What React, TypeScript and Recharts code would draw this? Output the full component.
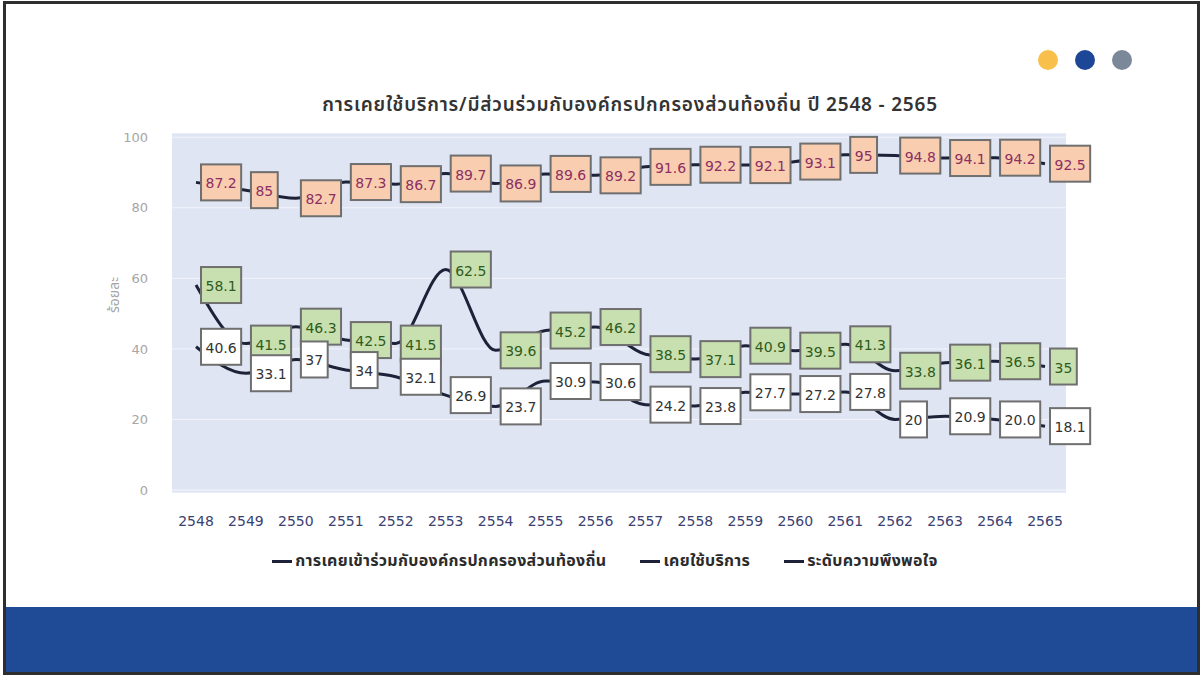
import { LineChart, Line, XAxis, YAxis, CartesianGrid, LabelList } from "recharts";

const years = ["2548", "2549", "2550", "2551", "2552", "2553", "2554", "2555", "2556", "2557", "2558", "2559", "2560", "2561", "2562", "2563", "2564", "2565"];
const participation = [58.1, 41.5, 46.3, 42.5, 41.5, 62.5, 39.6, 45.2, 46.2, 38.5, 37.1, 40.9, 39.5, 41.3, 33.8, 36.1, 36.5, 35];
const service = [40.6, 33.1, 37, 34, 32.1, 26.9, 23.7, 30.9, 30.6, 24.2, 23.8, 27.7, 27.2, 27.8, 20, 20.9, 20.0, 18.1];
const satisfaction = [87.2, 85, 82.7, 87.3, 86.7, 89.7, 86.9, 89.6, 89.2, 91.6, 92.2, 92.1, 93.1, 95, 94.8, 94.1, 94.2, 92.5];
const serviceLabels = ["40.6", "33.1", "37", "34", "32.1", "26.9", "23.7", "30.9", "30.6", "24.2", "23.8", "27.7", "27.2", "27.8", "20", "20.9", "20.0", "18.1"];
const yTicks = [0, 20, 40, 60, 80, 100];

const seriesNames = [
  "การเคยเข้าร่วมกับองค์กรปกครองส่วนท้องถิ่น",
  "เคยใช้บริการ",
  "ระดับความพึงพอใจ",
];

const data = years.map((year, i) => ({
  year,
  participation: participation[i],
  service: service[i],
  satisfaction: satisfaction[i],
}));

const thaiFont = "Tahoma, 'Noto Sans Thai', 'Noto Sans', 'DejaVu Sans', sans-serif";
const lineColor = "#1d2238";

const textWidth = (t: string, fs: number) =>
  t.split("").reduce((w, c) => w + (c === "." ? 0.318 : 0.636) * fs, 0);

function makeBox(fill: string, color: string, texts?: string[]) {
  return (props: any) => {
    const { x, y, value, index } = props;
    if (x == null || y == null) return null;
    const t = texts ? texts[index] : String(value);
    const fs = 14;
    const w = textWidth(t, fs) + 9;
    return (
      <g>
        <rect x={x + 5} y={y - 18} width={w} height={36} fill={fill} stroke="#6f6f6f" strokeWidth={2} />
        <text
          x={x + 5 + w / 2}
          y={y + 1}
          textAnchor="middle"
          dominantBaseline="central"
          fontSize={fs}
          fontFamily="'DejaVu Sans', Verdana, sans-serif"
          fill={color}
        >
          {t}
        </text>
      </g>
    );
  };
}

export default function App() {
  return (
    <div style={{ position: "absolute", left: 0, top: 0, width: 1204, height: 676, background: "#fff", overflow: "hidden" }}>
      <div style={{ position: "absolute", left: 3, top: 1, width: 1197, height: 674, boxSizing: "border-box", border: "3px solid #2e2e2e" }} />
      <div style={{ position: "absolute", left: 6, top: 607, width: 1191, height: 65, background: "#1e4a96" }} />
      {["#f9bf4b", "#1e4696", "#7b8899"].map((c, i) => (
        <div key={c} style={{ position: "absolute", left: 1038 + i * 37, top: 50, width: 20, height: 20, borderRadius: 10, background: c }} />
      ))}
      <div
        style={{
          position: "absolute",
          left: 0,
          top: 91,
          width: 1260,
          textAlign: "center",
          fontFamily: thaiFont,
          fontSize: 19,
          fontWeight: 600,
          letterSpacing: 0.8,
          color: "#333",
        }}
      >
        การเคยใช้บริการ/มีส่วนร่วมกับองค์กรปกครองส่วนท้องถิ่น ปี 2548 - 2565
      </div>
      <div style={{ position: "absolute", left: 0, top: 0 }}>
        <LineChart width={1204} height={600} data={data} margin={{ top: 133, right: 138, bottom: 67, left: 112 }}>
          <CartesianGrid vertical={false} fill="#e0e5f4" stroke="#ffffff" strokeOpacity={0.6} />
          <XAxis
            dataKey="year"
            padding={{ left: 24, right: 21 }}
            axisLine={false}
            tickLine={false}
            tickSize={0}
            tickMargin={23}
            height={40}
            tick={{ fill: "#3b4272", fontSize: 14, fontFamily: "'DejaVu Sans', sans-serif" }}
            interval={0}
          />
          <YAxis
            domain={[-0.85, 101.2]}
            ticks={yTicks}
            allowDataOverflow
            axisLine={false}
            tickLine={false}
            tickSize={0}
            tickMargin={24}
            width={60}
            tick={{ fill: "#a6a6a6", fontSize: 13, fontFamily: "'DejaVu Sans', sans-serif" }}
            label={{ value: "ร้อยละ", angle: -90, position: "insideLeft", offset: 2, fill: "#a6a6a6", fontSize: 14, fontFamily: thaiFont }}
          />
          <Line
            name={seriesNames[0]}
            dataKey="participation"
            type="monotone"
            stroke={lineColor}
            strokeWidth={3}
            dot={false}
            isAnimationActive={false}
          >
            <LabelList dataKey="participation" content={makeBox("#c8dfb0", "#2f5b1c")} />
          </Line>
          <Line
            name={seriesNames[1]}
            dataKey="service"
            type="monotone"
            stroke={lineColor}
            strokeWidth={3}
            dot={false}
            isAnimationActive={false}
          >
            <LabelList dataKey="service" content={makeBox("#ffffff", "#333333", serviceLabels)} />
          </Line>
          <Line
            name={seriesNames[2]}
            dataKey="satisfaction"
            type="monotone"
            stroke={lineColor}
            strokeWidth={3}
            dot={false}
            isAnimationActive={false}
          >
            <LabelList dataKey="satisfaction" content={makeBox("#f8cdb0", "#8c2f62")} />
          </Line>
        </LineChart>
      </div>
      <div
        style={{
          position: "absolute",
          left: 0,
          top: 549,
          width: 1210,
          display: "flex",
          justifyContent: "center",
          gap: 34,
          fontFamily: thaiFont,
          fontSize: 16,
          fontWeight: 700,
          letterSpacing: 0.3,
          color: "#2b2b2b",
        }}
      >
        {seriesNames.map((n) => (
          <div key={n} style={{ display: "flex", alignItems: "center" }}>
            <span style={{ display: "inline-block", width: 20, height: 3, background: lineColor, marginRight: 3 }} />
            <span>{n}</span>
          </div>
        ))}
      </div>
    </div>
  );
}
